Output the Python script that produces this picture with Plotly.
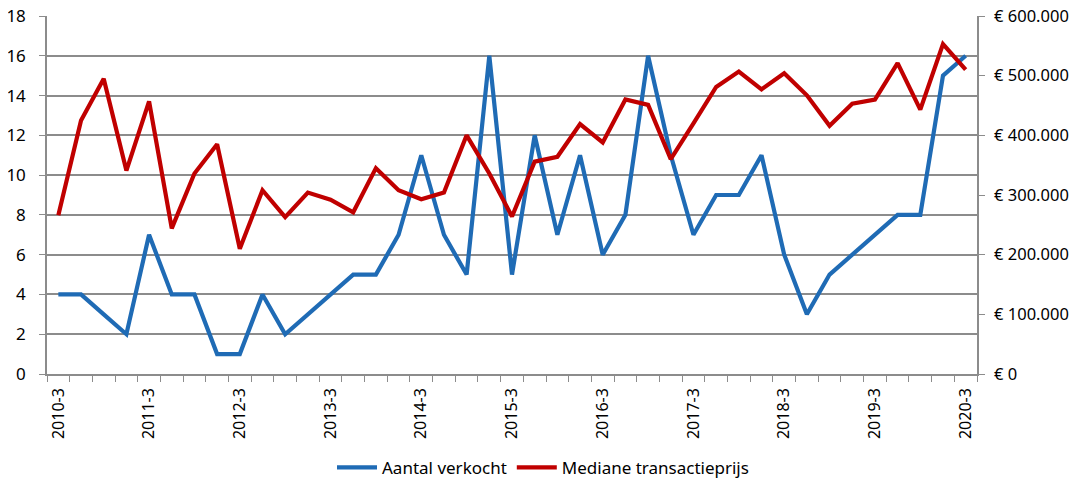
import plotly.graph_objects as go

# kwartalen 2010-3 t/m 2020-3
kwartalen = [f"{j}-{k}" for j in range(2010, 2021) for k in range(1, 5)][2:43]

aantal_verkocht = [4, 4, 3, 2, 7, 4, 4, 1, 1, 4,
                   2, 3, 4, 5, 5, 7, 11, 7, 5, 16,
                   5, 12, 7, 11, 6, 8, 16, 11, 7, 9,
                   9, 11, 6, 3, 5, 6, 7, 8, 8, 15,
                   16]

mediane_prijs = [266000, 425000, 495000, 341000, 457000, 244000, 336000, 385000, 210000, 308000,
                 263000, 304000, 292000, 271000, 345000, 308000, 293000, 304000, 400000, 336000,
                 264000, 356000, 364000, 419000, 388000, 460000, 451000, 360000, 420000, 481000,
                 507000, 477000, 504000, 467000, 416000, 453000, 460000, 521000, 443000, 553000,
                 510000]

label_posities = list(range(0, len(kwartalen), 4))
label_teksten = [kwartalen[i] for i in label_posities]

x = list(range(len(kwartalen)))
font_naam = "Noto Sans"
grijs = "#8c8c8c"

fig = go.Figure()
fig.add_trace(go.Scatter(x=x, y=aantal_verkocht, name="Aantal verkocht",
                         mode="lines", line=dict(color="#1f6bb5", width=4.2)))
fig.add_trace(go.Scatter(x=x, y=mediane_prijs, name="Mediane transactieprijs",
                         mode="lines", yaxis="y2", line=dict(color="#c00000", width=4.2)))

# de pagina heeft 8px body-marge, dus de figuur is 8px kleiner
fig.update_layout(
    width=1070, height=477,
    margin=dict(l=39, r=101, t=8, b=111, autoexpand=False),
    paper_bgcolor="white", plot_bgcolor="white",
    separators=",.",
    font=dict(family=font_naam, size=17, color="black"),
    showlegend=True,
    legend=dict(orientation="h", xref="container", x=0.5, xanchor="center",
                yref="container", y=0.036, yanchor="middle",
                font=dict(size=17), itemwidth=40),
    xaxis=dict(range=[-0.5, len(kwartalen) - 0.5], automargin=False,
               tickmode="array", tickvals=label_posities, ticktext=label_teksten,
               tickangle=-90, ticks="", showgrid=False, zeroline=False,
               tickfont=dict(size=16), ticklabelstandoff=6, ticklabeloverflow="allow",
               showline=True, linecolor=grijs, linewidth=1.5,
               minor=dict(ticks="outside", tick0=-0.5, dtick=1, ticklen=6,
                          tickcolor=grijs, showgrid=False)),
    yaxis=dict(range=[0, 18], dtick=2, showgrid=True, gridcolor=grijs, gridwidth=1.5,
               zeroline=False, showline=True, linecolor=grijs, linewidth=1.5, automargin=False,
               ticks="outside", ticklen=6, tickcolor=grijs, ticklabelstandoff=10,
               ticklabeloverflow="allow"),
    yaxis2=dict(range=[0, 600000], dtick=100000, overlaying="y", side="right",
                showgrid=False, zeroline=False, showline=True, linecolor=grijs, linewidth=1.5,
                ticks="outside", ticklen=6, tickcolor=grijs, automargin=False,
                ticklabelstandoff=6, ticklabeloverflow="allow",
                tickfont=dict(size=16.5), tickprefix="€ ", tickformat=",.0f"),
)

fig.write_html("out.html")
